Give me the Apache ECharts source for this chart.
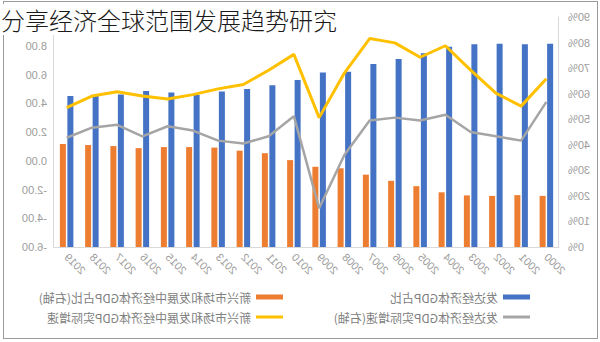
<!DOCTYPE html>
<html>
<head>
<meta charset="utf-8">
<script src="https://cdn.jsdelivr.net/npm/echarts@6/dist/echarts.min.js"></script>
<style>
  html, body { margin: 0; padding: 0; background: #fff; }
  #wrap { position: relative; width: 600px; height: 342px; overflow: hidden; background: #fff; }
  #chart { position: absolute; left: 0; top: 0; width: 600px; height: 342px; transform: scaleX(-1); transform-origin: 50% 50%; }
  #frame { position: absolute; left: 3px; top: 1px; width: 593px; height: 336px; border: 1px solid #9a9a9a; box-sizing: content-box; pointer-events: none; }
  #title { position: absolute; left: 0; top: 4px; height: 31px; line-height: 31px; padding: 0 6px 0 1px;
           background: #fff; font-family: "Noto Sans CJK SC", "Noto Sans", sans-serif; font-size: 24px;
           font-weight: 300; color: #1a1a1a; white-space: nowrap; }
</style>
</head>
<body>
<div id="wrap">
  <div id="chart"></div>
  <div id="frame"></div>
  <div id="title">分享经济全球范围发展趋势研究</div>
</div>
<script>
// Years on the category axis
const years = ['2000','2001','2002','2003','2004','2005','2006','2007','2008','2009',
               '2010','2011','2012','2013','2014','2015','2016','2017','2018','2019'];

// GDP share of developed economies (%)
const devShare = [79.5, 79.3, 79.5, 79.3, 78.4, 75.8, 73.6, 71.6, 68.6, 68.3,
                  65.3, 63.3, 61.8, 60.8, 59.5, 60.5, 61.0, 59.7, 59.1, 59.1];
// GDP share of emerging market and developing economies (%)
const emShare = [20.0, 20.3, 20.0, 20.2, 21.4, 23.8, 25.9, 28.3, 30.8, 31.4,
                 34.0, 36.7, 37.7, 38.9, 39.1, 39.1, 38.7, 39.5, 39.9, 40.3];
// Real GDP growth of emerging market and developing economies (%)
const emGrowth = [5.7, 3.8, 4.7, 6.3, 8.0, 7.2, 8.2, 8.5, 6.1, 3.0,
                  7.4, 6.3, 5.3, 5.0, 4.6, 4.3, 4.5, 4.8, 4.5, 3.7];
// Real GDP growth of developed economies (%)
const devGrowth = [4.1, 1.4, 1.7, 2.0, 3.2, 2.8, 3.0, 2.8, 0.4, -3.3,
                   3.1, 1.7, 1.2, 1.4, 2.1, 2.4, 1.7, 2.5, 2.3, 1.6];

// Axis ranges
const shareAxis = { min: 0, max: 90, interval: 10 };
const growthAxis = { min: -6, max: 10, interval: 2 };

const names = {
  devShare: '发达经济体GDP占比',
  emShare: '新兴市场和发展中经济体GDP占比(右轴)',
  emGrowth: '新兴市场和发展中经济体GDP实际增速',
  devGrowth: '发达经济体GDP实际增速(右轴)'
};

const colors = { blue: '#4472C4', orange: '#ED7D31', yellow: '#FFC000', gray: '#A5A5A5' };
const axisLabel = { color: '#9c9c9c', fontSize: 11, fontFamily: 'Liberation Sans, Arial, sans-serif' };
const axisLine = { show: true, lineStyle: { color: '#d9d9d9', width: 1 } };
const legendText = { color: '#808080', fontSize: 12, fontFamily: '"Noto Sans CJK SC", sans-serif' };

function legendAt(name, left, top, h) {
  return {
    data: [name], left: left, top: top, padding: 0, icon: 'rect',
    itemWidth: 27, itemHeight: h, itemGap: 4, textStyle: legendText, selectedMode: false
  };
}

const chart = echarts.init(document.getElementById('chart'), null, { renderer: 'svg' });
chart.setOption({
  animation: false,
  backgroundColor: '#fff',
  grid: { left: 41, right: 54, top: 17, bottom: 95 },
  legend: [
    legendAt(names.devShare, 70, 291, 5),
    legendAt(names.devGrowth, 70, 311, 3),
    legendAt(names.emShare, 317, 291, 5),
    legendAt(names.emGrowth, 317, 311, 3)
  ],
  xAxis: {
    type: 'category', data: years,
    axisLine: axisLine, axisTick: { show: false },
    axisLabel: Object.assign({ rotate: 45, interval: 0, margin: 8 }, axisLabel)
  },
  yAxis: [
    {
      type: 'value', position: 'left', min: shareAxis.min, max: shareAxis.max, interval: shareAxis.interval,
      axisLine: axisLine, axisTick: { show: false }, splitLine: { show: false },
      axisLabel: Object.assign({ formatter: v => v + '%', margin: 9 }, axisLabel)
    },
    {
      type: 'value', position: 'right', min: growthAxis.min, max: growthAxis.max, interval: growthAxis.interval,
      axisLine: axisLine, axisTick: { show: false }, splitLine: { show: false },
      axisLabel: Object.assign({ formatter: v => v.toFixed(2), margin: 7, showMaxLabel: false }, axisLabel)
    }
  ],
  series: [
    { name: names.devShare, type: 'bar', yAxisIndex: 0, data: devShare, barWidth: 6, barGap: '25%',
      itemStyle: { color: colors.blue } },
    { name: names.emShare, type: 'bar', yAxisIndex: 0, data: emShare, barWidth: 6, barGap: '25%',
      itemStyle: { color: colors.orange } },
    { name: names.emGrowth, type: 'line', yAxisIndex: 1, data: emGrowth, showSymbol: false, symbol: 'none',
      lineStyle: { color: colors.yellow, width: 3 }, itemStyle: { color: colors.yellow }, z: 3 },
    { name: names.devGrowth, type: 'line', yAxisIndex: 1, data: devGrowth, showSymbol: false, symbol: 'none',
      lineStyle: { color: colors.gray, width: 2.5 }, itemStyle: { color: colors.gray }, z: 3 }
  ]
});
</script>
</body>
</html>
